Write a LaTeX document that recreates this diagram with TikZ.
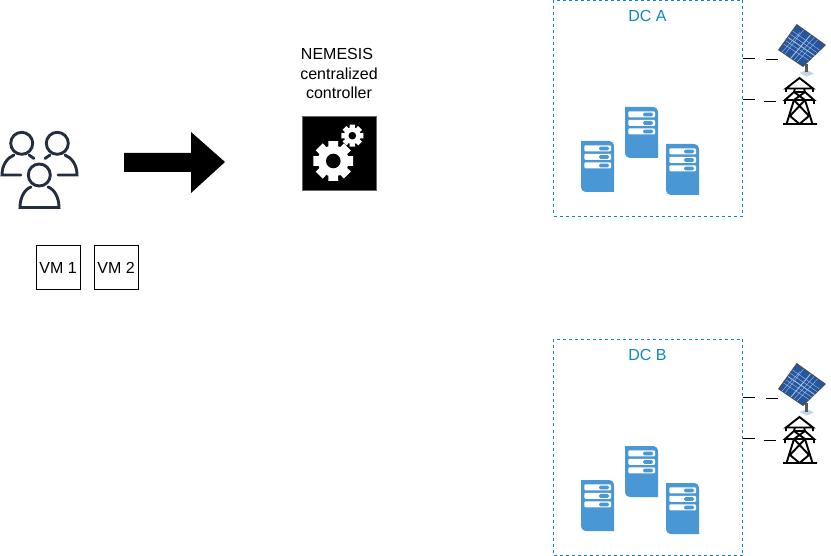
\documentclass[tikz,border=0pt]{standalone}
\usepackage{fontspec}
\setmainfont{Liberation Sans}
\usetikzlibrary{calc}
\definecolor{dcblue}{HTML}{0F86C4}
\definecolor{srvblue}{HTML}{4A97D6}
\definecolor{userdark}{HTML}{232F3E}
\definecolor{panelblue}{HTML}{24559F}
\definecolor{panelgrid}{HTML}{A9BFE0}
\definecolor{panelbase}{HTML}{C5D3E4}
\tikzset{
  x=1pt,y=-1pt,
  txt/.style={font=\fontsize{16}{19.2}\selectfont,inner sep=0pt,align=center},
  dcbox/.style={draw=dcblue,dashed,dash pattern=on 3pt off 3pt,line width=0.8pt,minimum width=189pt,minimum height=216pt,inner sep=0pt},
  dclabel/.style={txt,text=dcblue},
  vmbox/.style={draw=black,line width=0.8pt,minimum width=44pt,minimum height=44pt,inner sep=0pt,font=\fontsize{16}{19.2}\selectfont},
  link/.style={draw=black,line width=1pt,dash pattern=on 12pt off 11pt},
  person/.style={draw=userdark,line width=2.9pt,fill=none,line cap=round},
  pics/server/.style={code={
    \fill[srvblue] (0,0) -- (27,0) .. controls (31,0) and (33,2) .. (33,6) -- (33,51) -- (6,51) .. controls (2,51) and (0,49) .. (0,45) -- cycle;
    \foreach \yy in {4.3,12.8,21.3}{
      \fill[white,rounded corners=1pt] (3.3,\yy) rectangle (30,\yy+6);
      \fill[srvblue,rounded corners=1.5pt] (18,\yy+1.3) rectangle (28,\yy+5);
    }
  }},
  pics/solar/.style={code={
    \fill[panelbase] (799.5,73) -- (806.7,70) -- (814,73.5) -- (806.7,76.5) -- cycle;
    \fill[black!65] (805.3,64) rectangle (808.2,72.5);
    \fill[black!70] (796.7,24) -- (826,45) -- (803,67) -- (778,50) -- cycle;
    \fill[panelblue] (796.7,25.5) -- (824.5,45) -- (803,65.5) -- (779.5,50) -- cycle;
    \draw[panelgrid,line width=0.9pt] (788,37.5) -- (814.5,55.5) (810.5,35) -- (791,58);
    \draw[panelgrid,line width=0.4pt] (792.5,31) -- (819.5,50) (783.5,44) -- (809,60.5)
      (803.5,30) -- (785,54) (817.5,40) -- (797,62)
      (790.3,34.2) -- (817,52.7) (785.7,40.8) -- (811.7,58)
      (800,32.5) -- (782,52) (814,37.5) -- (794,60);
  }},
  pics/pylon/.style={code={
    \draw[black,line width=1.9pt,line join=miter] 
      (783,124) -- (817,124)
      (799.5,78) -- (786,88.5) -- (813,88.5) -- cycle
      (786,88.5) -- (786,92) (813,88.5) -- (813,92)
      (785,100) -- (814,100) -- (805,92) -- (794,92) -- cycle
      (785,100) -- (785,104) (814,100) -- (814,104)
      (794,92) -- (805,100) (805,92) -- (794,100)
      (795,88.5) -- (794,92) (804,88.5) -- (805,92)
      (794,100) -- (786.5,124) (805,100) -- (812.5,124)
      (794,100) -- (809,116) (805,100) -- (790,116)
      (790,116) -- (799.5,124) (809,116) -- (799.5,124);
  }},
}
\begin{document}
\begin{tikzpicture}
\useasboundingbox (0,0) rectangle (831,556);

% users
\draw[person] (21.7,143.3) circle[radius=11];
\draw[person] (57.3,143.3) circle[radius=11];
\draw[person] (39.3,175) circle[radius=11];
\draw[person] (21,175) -- (2,175) .. controls (2,165) and (7,158) .. (14,155);
\draw[person] (29,155) -- (34,158.5);
\draw[person] (58,175) -- (77,175) .. controls (77,165) and (72,158) .. (65,155);
\draw[person] (50,155) -- (45,158.5);
\draw[person] (31,187) .. controls (25,189) and (20,197) .. (20,207.5) -- (59,207.5) .. controls (59,197) and (54,189) .. (48,187);

% big arrow
\fill[black] (124,153) -- (191,153) -- (191,132) -- (225,162) -- (191,193) -- (191,172) -- (124,172) -- cycle;

% VMs
\node[vmbox] (vm1) at (58.5,267.5) {\kern-1pt VM 1};
\node[vmbox] (vm2) at (116.5,267.5) {\kern-1pt VM 2};

% controller
\node[txt] (ctrl) at (339,73.5) {NEMESIS\hspace{4pt}\mbox{}\\centralized\\controller};
\node[draw=black!60,fill=black,minimum width=73.5pt,minimum height=74pt,inner sep=0pt] (gearbox) at (339,153) {};
\coordinate (biggear) at (333.3,161);
\coordinate (smallgear) at (352.3,135.7);
\foreach \a in {0,45,...,315}{
  \fill[white] ($(biggear)+(\a-19:15)$) -- ($(biggear)+(\a-14:20.5)$) -- ($(biggear)+(\a+14:20.5)$) -- ($(biggear)+(\a+19:15)$) -- cycle;
  \fill[white] ($(smallgear)+(\a-19:8)$) -- ($(smallgear)+(\a-14:11.3)$) -- ($(smallgear)+(\a+14:11.3)$) -- ($(smallgear)+(\a+19:8)$) -- cycle;
}
\fill[white] (biggear) circle[radius=15.5];
\fill[black] (biggear) circle[radius=7.3];
\fill[white] (smallgear) circle[radius=8.4];
\fill[black] (smallgear) circle[radius=3.8];

% DC A
\node[dcbox] (dca) at (648,108.5) {};
\node[dclabel] (dcalabel) at (647.5,16) {DC A};
\pic at (625,107) {server};
\pic at (581,141) {server};
\pic at (666,144) {server};
\pic {solar};
\pic {pylon};
\coordinate (sa) at (779,59.5);
\coordinate (pa) at (777,101.5);
\draw[link,dash pattern=on 12pt off 12pt] (dca.east |- 0,58.5) -- (761,58.5) |- (sa);
\draw[link] (dca.east |- 0,99.5) -- (760,99.5) |- (pa);

% DC B
\node[dcbox] (dcb) at (648,447.5) {};
\node[dclabel] (dcblabel) at (647.5,355) {DC B};
\pic at (625,446) {server};
\pic at (581,480) {server};
\pic at (666,483) {server};
\begin{scope}[yshift=-339pt]
\pic {solar};
\pic {pylon};
\end{scope}
\coordinate (sb) at (779,398.5);
\coordinate (pb) at (777,440.5);
\draw[link,dash pattern=on 12pt off 12pt] (dcb.east |- 0,397.5) -- (761,397.5) |- (sb);
\draw[link] (dcb.east |- 0,438.5) -- (760,438.5) |- (pb);
\end{tikzpicture}
\end{document}
